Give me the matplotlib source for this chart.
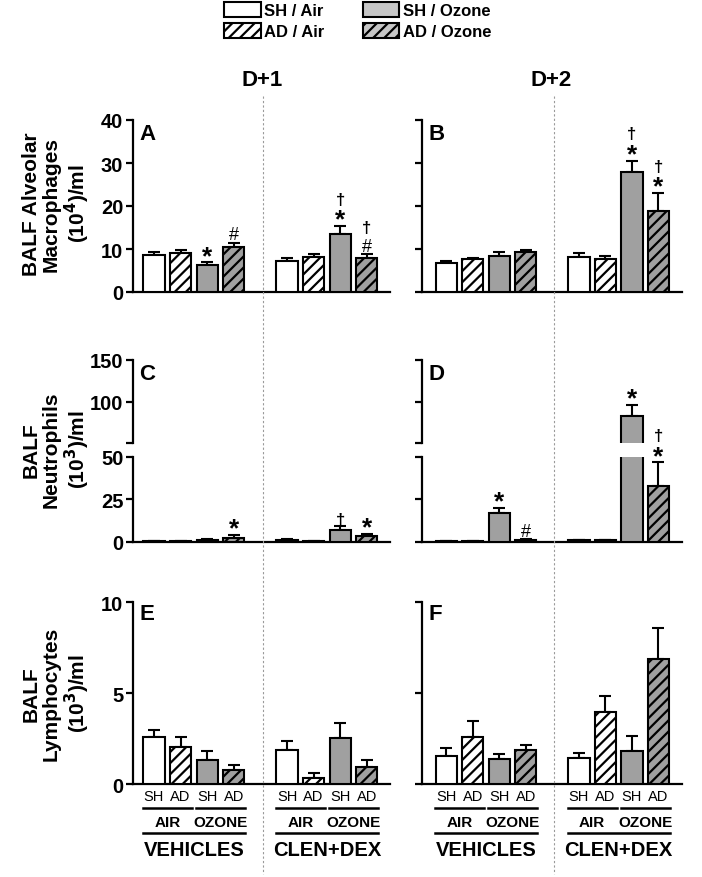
import matplotlib
matplotlib.use("Agg")
import matplotlib.pyplot as plt
import numpy as np
from matplotlib.patches import Patch
from matplotlib.lines import Line2D
from matplotlib.transforms import blended_transform_factory

plt.rcParams['font.family'] = ['Liberation Sans', 'DejaVu Sans']
plt.rcParams['hatch.linewidth'] = 1.6

# groups / conditions
days = ['D+1', 'D+2']
groups = ['VEHICLES', 'CLEN+DEX']
conditions = ['SH / Air', 'AD / Air', 'SH / Ozone', 'AD / Ozone']
sub_labels = ['SH', 'AD', 'SH', 'AD']
exposures = ['AIR', 'OZONE']

# values: 4 vehicles bars then 4 clen+dex bars
macro_d1_mean = [8.6, 9.1, 6.2, 10.5, 7.3, 8.1, 13.5, 8.0]
macro_d1_sem = [0.6, 0.6, 0.7, 0.9, 0.6, 0.8, 1.8, 0.8]
macro_d1_marks = ['', '', '*', '#', '', '', '*†', '#†']

macro_d2_mean = [6.7, 7.6, 8.4, 9.2, 8.2, 7.7, 27.8, 18.8]
macro_d2_sem = [0.6, 0.4, 1.0, 0.6, 0.9, 0.7, 2.7, 4.2]
macro_d2_marks = ['', '', '', '', '', '', '*†', '*†']

neutro_d1_mean = [0.3, 0.3, 0.8, 2.4, 0.8, 0.3, 6.9, 3.2]
neutro_d1_sem = [0.2, 0.2, 0.8, 1.7, 0.5, 0.2, 2.1, 1.5]
neutro_d1_marks = ['', '', '', '*', '', '', '†', '*']

neutro_d2_mean = [0.3, 0.3, 16.9, 1.0, 0.8, 0.8, 83.0, 32.9]
neutro_d2_sem = [0.2, 0.2, 2.9, 0.5, 0.4, 0.4, 13.0, 13.8]
neutro_d2_marks = ['', '', '*', '#', '', '', '*', '*†']

lympho_d1_mean = [2.58, 2.03, 1.34, 0.80, 1.90, 0.33, 2.53, 0.97]
lympho_d1_sem = [0.42, 0.59, 0.51, 0.28, 0.46, 0.27, 0.82, 0.37]

lympho_d2_mean = [1.55, 2.62, 1.39, 1.88, 1.43, 3.97, 1.83, 6.87]
lympho_d2_sem = [0.45, 0.86, 0.27, 0.26, 0.29, 0.86, 0.82, 1.72]

GRAY = '#a0a0a0'
faces = ['white', 'white', GRAY, GRAY]
hatches = ['', '///', '', '///']
xpos = np.array([i + i // 4 for i in range(8)])

fig = plt.figure(figsize=(7.02, 8.78), dpi=100)
W, H = 702, 878


def add_ax(x0, x1, y0, y1):
    return fig.add_axes([x0 / W, 1 - y1 / H, (x1 - x0) / W, (y1 - y0) / H])


cols = [(133, 390, (-0.79, 8.87)), (422, 682, (-0.92, 8.89))]

# symbol: fontsize, weight, baseline shift (px) below the symbol centre
sym_style = {'*': (19, 'bold', 8.6), '#': (13, 'normal', 4.5), '†': (12, 'bold', 5.5)}


def put_marks(ax, x, ytop, syms):
    for level, s in enumerate(syms):
        size, weight, shift = sym_style[s]
        center_px = 8 + 20 * level
        base_px = center_px - shift
        ax.annotate(s, (x, ytop), xytext=(0, base_px * 72 / 100), textcoords='offset points',
                    ha='center', va='baseline', fontsize=size, fontweight=weight,
                    annotation_clip=False)


def draw_bars(ax, mean, sem):
    for i in range(8):
        ax.bar(xpos[i], mean[i], width=0.8, color=faces[i % 4], edgecolor='black',
               hatch=hatches[i % 4], linewidth=1.5, zorder=3)
    ax.errorbar(xpos, mean, yerr=[np.zeros(8), sem], fmt='none', ecolor='black',
                elinewidth=1.5, capsize=4.5, capthick=1.5, zorder=2)


def style_ax(ax, xlim, ylim, ticks, show_labels, ticklabels=None, bottom=True):
    ax.set_xlim(*xlim)
    ax.set_ylim(*ylim)
    for s in ['top', 'right']:
        ax.spines[s].set_visible(False)
    ax.spines['left'].set_linewidth(1.6)
    ax.spines['bottom'].set_linewidth(1.6)
    if not bottom:
        ax.spines['bottom'].set_visible(False)
    ax.set_xticks([])
    ax.set_yticks(ticks)
    ax.tick_params(axis='y', length=5, width=1.6, labelsize=14.5, pad=2)
    if show_labels:
        ax.set_yticklabels(ticklabels if ticklabels else [str(t) for t in ticks], fontweight='bold')
    else:
        ax.set_yticklabels([])
    ax.patch.set_alpha(0)


def panel_letter(ax, letter, yfrac):
    ax.text(0.025, yfrac, letter, transform=ax.transAxes, fontsize=16, fontweight='bold',
            ha='left', va='center')


# row 1: macrophages
for c, (mean, sem, marks, letter) in enumerate([(macro_d1_mean, macro_d1_sem, macro_d1_marks, 'A'),
                                                (macro_d2_mean, macro_d2_sem, macro_d2_marks, 'B')]):
    x0, x1, xl = cols[c]
    ax = add_ax(x0, x1, 121, 293)
    draw_bars(ax, mean, sem)
    style_ax(ax, xl, (0, 40), [0, 10, 20, 30, 40], c == 0)
    for i in range(8):
        put_marks(ax, xpos[i], mean[i] + sem[i], marks[i])
    panel_letter(ax, letter, 0.924)

# row 2: neutrophils, broken axis
for c, (mean, sem, marks, letter) in enumerate([(neutro_d1_mean, neutro_d1_sem, neutro_d1_marks, 'C'),
                                                (neutro_d2_mean, neutro_d2_sem, neutro_d2_marks, 'D')]):
    x0, x1, xl = cols[c]
    ax_hi = add_ax(x0, x1, 360.7, 444.3)
    ax_lo = add_ax(x0, x1, 457.7, 542.7)
    draw_bars(ax_hi, mean, sem)
    draw_bars(ax_lo, mean, sem)
    style_ax(ax_hi, xl, (50, 150), [50, 100, 150], c == 0, ['', '100', '150'], bottom=False)
    style_ax(ax_lo, xl, (0, 50), [0, 25, 50], c == 0)
    for i in range(8):
        top = mean[i] + sem[i]
        put_marks(ax_hi if top > 50 else ax_lo, xpos[i], top, marks[i])
    panel_letter(ax_hi, letter, 0.83)

# row 3: lymphocytes
for c, (mean, sem, letter) in enumerate([(lympho_d1_mean, lympho_d1_sem, 'E'),
                                         (lympho_d2_mean, lympho_d2_sem, 'F')]):
    x0, x1, xl = cols[c]
    ax = add_ax(x0, x1, 603.3, 785.3)
    draw_bars(ax, mean, sem)
    style_ax(ax, xl, (0, 10), [0, 5, 10], c == 0)
    panel_letter(ax, letter, 0.936)

    tr = blended_transform_factory(ax.transData, ax.transAxes)
    for i in range(8):
        ax.text(xpos[i], -0.064, sub_labels[i % 4], transform=tr, ha='center', va='center',
                fontsize=10.5)
    for g in range(2):
        for e in range(2):
            a = xpos[4 * g + 2 * e] - 0.42
            b = xpos[4 * g + 2 * e + 1] + 0.42
            ax.plot([a, b], [-0.132, -0.132], transform=tr, color='black', lw=1.8, clip_on=False)
            ax.text((a + b) / 2, -0.205, exposures[e], transform=tr, ha='center', va='center',
                    fontsize=11, fontweight='bold')
        a = xpos[4 * g] - 0.42
        b = xpos[4 * g + 3] + 0.42
        ax.plot([a, b], [-0.269, -0.269], transform=tr, color='black', lw=1.8, clip_on=False)
        ax.text((a + b) / 2, -0.36, groups[g], transform=tr, ha='center', va='center',
                fontsize=14.5, fontweight='bold')

# dashed dividers between treatment groups
for xd in [263, 554]:
    fig.add_artist(Line2D([xd / W, xd / W], [1 - 97 / H, 1 - 875 / H], color='#9a9a9a',
                          lw=0.8, ls=(0, (2, 2))))

# day titles
for xd, day in zip([262, 551], days):
    fig.text(xd / W, 1 - 80 / H, day, ha='center', va='center', fontsize=16, fontweight='bold')

# row labels
row_labels = ['BALF Alveolar\nMacrophages\n(10$^\\mathbf{4}$)/ml',
              'BALF\nNeutrophils\n(10$^\\mathbf{3}$)/ml',
              'BALF\nLymphocytes\n(10$^\\mathbf{3}$)/ml']
for yc, lab in zip([204, 450, 694], row_labels):
    fig.text(57 / W, 1 - yc / H, lab, rotation=90, ha='center', va='center', fontsize=15,
             fontweight='bold', multialignment='center', linespacing=1.1)

# legend
handles = [Patch(facecolor='white', edgecolor='black', lw=1.5, label=conditions[0]),
           Patch(facecolor='white', edgecolor='black', lw=1.5, hatch='///', label=conditions[1]),
           Patch(facecolor='#c6c6c6', edgecolor='black', lw=1.5, label=conditions[2]),
           Patch(facecolor='#c6c6c6', edgecolor='black', lw=1.5, hatch='///', label=conditions[3])]
fig.legend(handles=handles, ncol=2, loc='upper left', bbox_to_anchor=(224 / W, 1 - 3 / H),
           frameon=False, borderpad=0, borderaxespad=0, handlelength=2.2, handleheight=1.0,
           handletextpad=0.2, columnspacing=2.3, labelspacing=0.3,
           prop={'size': 12, 'weight': 'bold'})

fig.savefig('out.png', dpi=100)
